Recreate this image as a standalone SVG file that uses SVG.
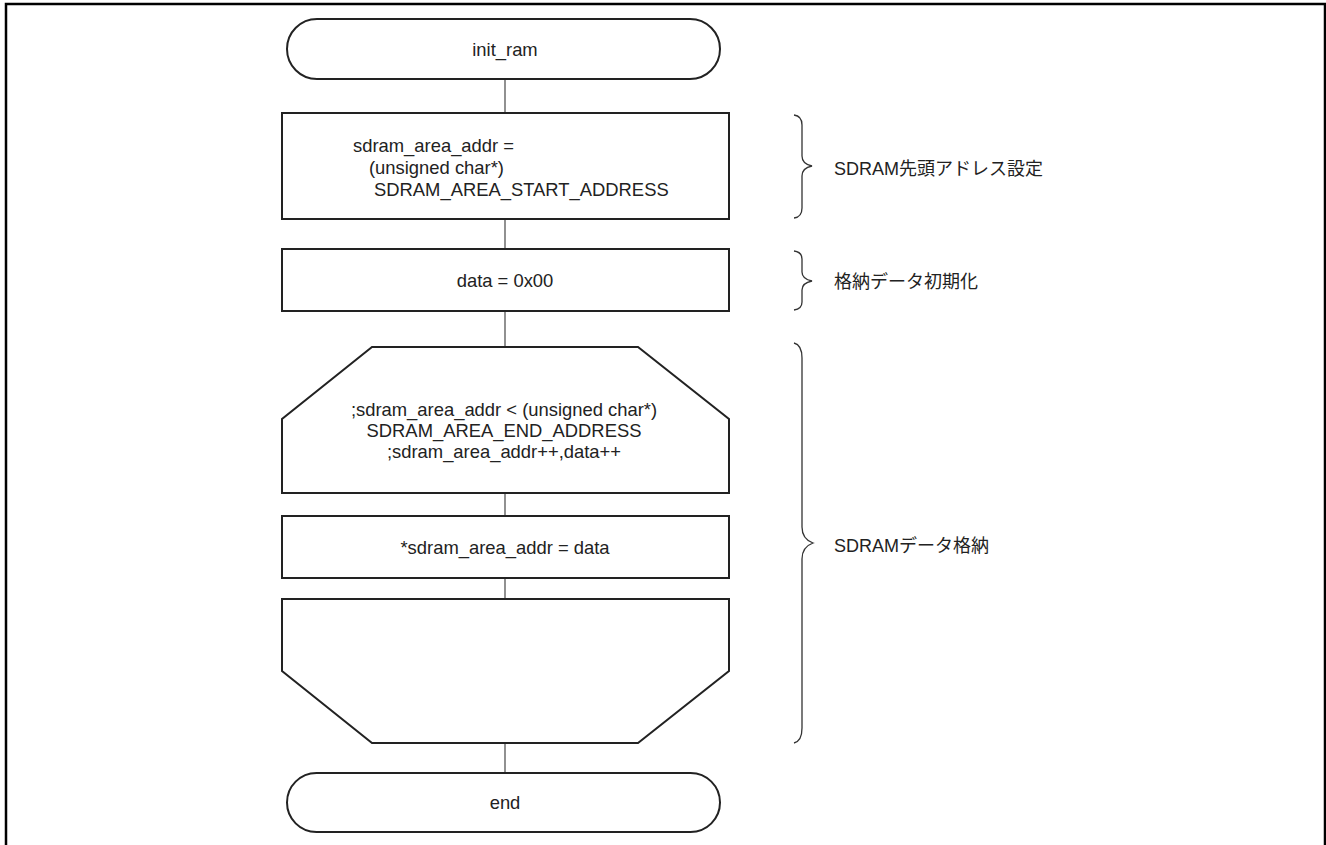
<svg xmlns="http://www.w3.org/2000/svg" width="1326" height="845" viewBox="0 0 1326 845">
  <style>
    .shape { fill: #ffffff; stroke: #222222; stroke-width: 2; }
    .link { stroke: #555555; stroke-width: 1.3; fill: none; }
    .brace { stroke: #333333; stroke-width: 1.3; fill: none; }
    .lbl { font-family: "Liberation Sans", Arial, sans-serif; font-size: 18.4px; fill: #222222; }
    .mid { text-anchor: middle; }
    .note { font-family: "Liberation Sans", "Noto Sans CJK JP", sans-serif; font-size: 18px; fill: #222222; }
  </style>

  <rect x="0" y="0" width="1326" height="845" fill="#ffffff"/>
  <!-- page frame (open at the bottom) -->
  <path d="M6,845 V4 H1325 V845" fill="none" stroke="#000000" stroke-width="2.5"/>

  <!-- flow connectors -->
  <g id="connectors">
    <line class="link" x1="505" y1="79" x2="505" y2="113"/>
    <line class="link" x1="505" y1="219" x2="505" y2="249"/>
    <line class="link" x1="505" y1="311" x2="505" y2="347"/>
    <line class="link" x1="505" y1="493" x2="505" y2="516"/>
    <line class="link" x1="505" y1="578" x2="505" y2="599"/>
    <line class="link" x1="505" y1="743" x2="505" y2="773"/>
  </g>

  <g id="start">
    <rect class="shape" x="287" y="19" width="433" height="60" rx="30" ry="30"/>
    <text class="lbl mid" x="505" y="56">init_ram</text>
  </g>

  <g id="set_addr">
    <rect class="shape" x="282" y="113" width="447" height="106"/>
    <text class="lbl" x="353" y="152">sdram_area_addr =</text>
    <text class="lbl" x="369" y="174">(unsigned char*)</text>
    <text class="lbl" x="374" y="196">SDRAM_AREA_START_ADDRESS</text>
  </g>

  <g id="init_data">
    <rect class="shape" x="282" y="249" width="447" height="62"/>
    <text class="lbl mid" x="505" y="287">data = 0x00</text>
  </g>

  <g id="loop_start">
    <polygon class="shape" points="372,347 638,347 729,419 729,493 282,493 282,419"/>
    <text class="lbl mid" x="504" y="416">;sdram_area_addr &lt; (unsigned char*)</text>
    <text class="lbl mid" x="504" y="437">SDRAM_AREA_END_ADDRESS</text>
    <text class="lbl mid" x="504" y="458">;sdram_area_addr++,data++</text>
  </g>

  <g id="store">
    <rect class="shape" x="282" y="516" width="447" height="62"/>
    <text class="lbl mid" x="505" y="554">*sdram_area_addr = data</text>
  </g>

  <g id="loop_end">
    <polygon class="shape" points="282,599 729,599 729,671 638,743 372,743 282,671"/>
  </g>

  <g id="end">
    <rect class="shape" x="287" y="773" width="433" height="59" rx="29.5" ry="29.5"/>
    <text class="lbl mid" x="505" y="809">end</text>
  </g>

  <!-- annotation braces -->
  <g id="note_addr">
    <path class="brace" d="M794,115 Q802,116 802,125 V156 Q802,164 812,166 Q802,168 802,176 V208 Q802,217 794,218"/>
    <text class="note" x="834" y="175">SDRAM先頭アドレス設定</text>
  </g>

  <g id="note_data">
    <path class="brace" d="M794,251 Q802,252 802,259 V272 Q802,279 812,281 Q802,283 802,290 V302 Q802,309 794,310"/>
    <text class="note" x="834" y="288">格納データ初期化</text>
  </g>

  <g id="note_store">
    <path class="brace" d="M794,343 Q802,345 802,358 V527 Q802,539 813,543 Q802,547 802,559 V728 Q802,741 794,743"/>
    <text class="note" x="834" y="552">SDRAMデータ格納</text>
  </g>
</svg>
